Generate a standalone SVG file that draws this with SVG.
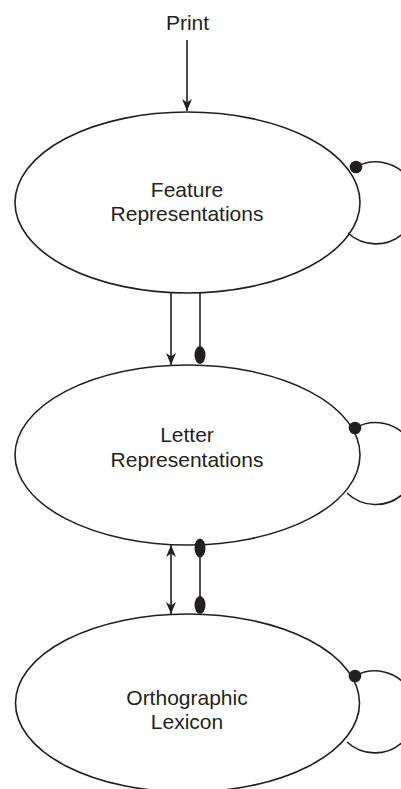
<svg xmlns="http://www.w3.org/2000/svg" width="401" height="789" viewBox="0 0 401 789">
<style>
.node{fill:#fff;stroke:#231f20;stroke-width:1.6}
.lbl{font-family:"Liberation Sans",Arial,Helvetica,sans-serif;font-size:21px;fill:#231f20;text-anchor:middle}
.ln{fill:none;stroke:#231f20;stroke-width:1.6}
.dot{fill:#231f20}
</style>
<defs>
<marker id="ah" viewBox="-12 -6 13 12" refX="0" refY="0" markerWidth="13" markerHeight="12" markerUnits="userSpaceOnUse" orient="auto-start-reverse">
<path d="M0,0 L-12,-5 L-8.5,0 L-12,5 Z" fill="#231f20"/>
</marker>
</defs>
<rect width="401" height="789" fill="#fff"/>
<g id="print"><text class="lbl" x="187.5" y="29.5">Print</text></g>
<g id="feature">
<ellipse class="node" cx="187.5" cy="202.5" rx="172.5" ry="90.5"/>
<text class="lbl" x="187" y="197">Feature</text>
<text class="lbl" x="187" y="221">Representations</text>
</g>
<g id="letter">
<ellipse class="node" cx="187.5" cy="455" rx="172.5" ry="90"/>
<text class="lbl" x="187" y="442">Letter</text>
<text class="lbl" x="187" y="467">Representations</text>
</g>
<g id="ortho">
<ellipse class="node" cx="187.5" cy="703" rx="172" ry="89"/>
<text class="lbl" x="187" y="705">Orthographic</text>
<text class="lbl" x="187" y="729">Lexicon</text>
</g>
<g id="connectors">
<line class="ln" x1="187" y1="40" x2="187" y2="111" marker-end="url(#ah)"/>
<line class="ln" x1="171" y1="293" x2="171" y2="365" marker-end="url(#ah)"/>
<line class="ln" x1="200" y1="293" x2="200" y2="350"/>
<ellipse class="dot" cx="200" cy="355" rx="5.5" ry="9"/>
<line class="ln" x1="171" y1="545" x2="171" y2="614" marker-start="url(#ah)" marker-end="url(#ah)"/>
<line class="ln" x1="200" y1="548" x2="200" y2="605"/>
<ellipse class="dot" cx="200" cy="548" rx="5.5" ry="9.5"/>
<ellipse class="dot" cx="200" cy="605" rx="5.5" ry="9"/>
<path class="ln" d="M356,167 A41,41 0 1 1 348,233"/>
<circle class="dot" cx="356" cy="167" r="6.3"/>
<path class="ln" d="M355,428 A41,41 0 1 1 347,493"/>
<circle class="dot" cx="355" cy="428" r="6.3"/>
<path class="ln" d="M355,676 A41,41 0 1 1 347,742"/>
<circle class="dot" cx="355" cy="676" r="6.3"/>
</g>
</svg>
